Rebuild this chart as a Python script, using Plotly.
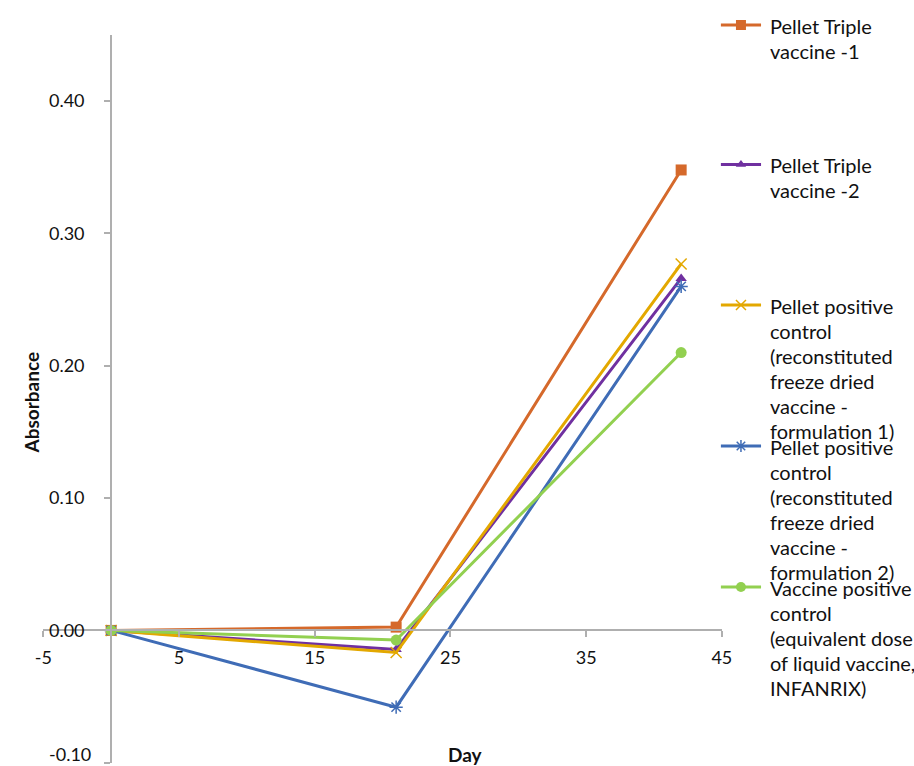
import plotly.graph_objects as go

# ---- data ----
days = [0, 21, 42]

triple_vaccine_1 = [0.0, 0.0025, 0.348]
triple_vaccine_2 = [0.0, -0.0144, 0.266]
positive_control_f1 = [0.0, -0.0167, 0.277]
positive_control_f2 = [0.0, -0.058, 0.260]
vaccine_positive_control = [0.0, -0.0073, 0.210]

legend_texts = [
    ["Pellet Triple", "vaccine -1"],
    ["Pellet Triple", "vaccine -2"],
    ["Pellet positive", "control", "(reconstituted", "freeze dried", "vaccine -", "formulation 1)"],
    ["Pellet positive", "control", "(reconstituted", "freeze dried", "vaccine -", "formulation 2)"],
    ["Vaccine positive", "control", "(equivalent dose", "of liquid vaccine,", "INFANRIX)"],
]

x_tick_vals = [-5, 5, 15, 25, 35, 45]
x_tick_text = ["-5", "5", "15", "25", "35", "45"]
y_tick_vals = [-0.10, 0.0, 0.10, 0.20, 0.30, 0.40]
y_tick_text = ["-0.10", "0.00", "0.10", "0.20", "0.30", "0.40"]

series_values = [triple_vaccine_1, triple_vaccine_2, positive_control_f1,
                 positive_control_f2, vaccine_positive_control]

# ---- styling ----
W, H = 914, 766
FONT = "Lato"
TEXT = "#111111"
AXIS = "#AFAFAF"

styles = [
    dict(color="#D5692B", symbol="square", size=11, line=None),
    dict(color="#7030A0", symbol="triangle-up", size=10, line=None),
    dict(color="#E3A800", symbol="x-thin-open", size=11, line=1.5),
    dict(color="#3F6CB6", symbol="asterisk-open", size=11, line=1.5),
    dict(color="#92D050", symbol="circle", size=11, line=None),
]

# plot-area frame in pixels
PX_L, PX_R, PX_T, PX_B = 35, 728, 35, 763
X_RANGE = [-5, 45]
Y_RANGE = [-0.1002, 0.45]


def px_x(px):
    return px / W


def px_y(py):
    return 1 - py / H


x_domain = [px_x(PX_L), px_x(PX_R)]
y_domain = [px_y(PX_B), px_y(PX_T)]
# axes cross at (0, 0)
x_axis_pos = y_domain[0] + (0 - Y_RANGE[0]) / (Y_RANGE[1] - Y_RANGE[0]) * (y_domain[1] - y_domain[0])
y_axis_pos = x_domain[0] + (0 - X_RANGE[0]) / (X_RANGE[1] - X_RANGE[0]) * (x_domain[1] - x_domain[0])


def marker_of(st, size=None):
    m = dict(symbol=st["symbol"], size=size or st["size"], color=st["color"])
    if st["line"]:
        m["line"] = dict(color=st["color"], width=st["line"])
    else:
        m["line"] = dict(width=0)
    return m


fig = go.Figure()

for vals, st, txt in zip(series_values, styles, legend_texts):
    fig.add_trace(go.Scatter(
        x=days, y=vals, mode="lines+markers",
        name=" ".join(txt),
        line=dict(color=st["color"], width=3),
        marker=marker_of(st),
        showlegend=False, cliponaxis=False,
        xaxis="x", yaxis="y",
    ))

# ---- hand-drawn legend on a pixel overlay ----
legend_y = [25, 164.5, 305, 446, 587]
LINE_STEP = 25
annotations = []
for st, txt, ly in zip(styles, legend_texts, legend_y):
    fig.add_trace(go.Scatter(
        x=[727, 768], y=[ly, ly], mode="lines",
        line=dict(color=st["color"], width=3),
        showlegend=False, hoverinfo="skip", cliponaxis=False,
        xaxis="x2", yaxis="y2",
    ))
    fig.add_trace(go.Scatter(
        x=[747.5], y=[ly], mode="markers",
        marker=marker_of(st, size=st["size"] - 1),
        showlegend=False, hoverinfo="skip", cliponaxis=False,
        xaxis="x2", yaxis="y2",
    ))
    for i, line in enumerate(txt):
        annotations.append(dict(
            x=px_x(775), y=px_y(ly + 1 + i * LINE_STEP),
            xref="paper", yref="paper", xanchor="left", yanchor="middle",
            text=line, showarrow=False,
            font=dict(family=FONT, size=20, color=TEXT),
        ))

# axis titles
annotations.append(dict(
    x=px_x(22), y=px_y(403), xref="paper", yref="paper",
    text="<b>Absorbance</b>", textangle=-90, showarrow=False,
    xanchor="center", yanchor="middle",
    font=dict(family=FONT, size=19, color=TEXT),
))
annotations.append(dict(
    x=px_x(466), y=px_y(754), xref="paper", yref="paper",
    text="<b>Day</b>", showarrow=False,
    xanchor="center", yanchor="middle",
    font=dict(family=FONT, size=19, color=TEXT),
))

# the lowest y label sits on the figure's bottom edge; keep it inside the page
y_tick_shown = [t if v > Y_RANGE[0] + 0.001 else "" for v, t in zip(y_tick_vals, y_tick_text)]
annotations.append(dict(
    x=px_x(85), y=0, xref="paper", yref="paper",
    text=y_tick_text[0], showarrow=False,
    xanchor="right", yanchor="bottom", borderpad=0,
    font=dict(family=FONT, size=18, color=TEXT),
))

fig.update_layout(
    width=W, height=H, autosize=False,
    margin=dict(l=0, r=0, t=0, b=0),
    paper_bgcolor="white", plot_bgcolor="rgba(0,0,0,0)",
    font=dict(family=FONT, color=TEXT),
    showlegend=False,
    xaxis=dict(
        domain=x_domain, range=X_RANGE, anchor="free", position=x_axis_pos,
        showgrid=False, zeroline=False,
        showline=True, linecolor=AXIS, linewidth=2,
        ticks="outside", ticklen=6, tickcolor=AXIS, tickwidth=2,
        tickvals=x_tick_vals, ticktext=x_tick_text,
        tickfont=dict(family=FONT, size=18, color=TEXT),
        ticklabelstandoff=5,
    ),
    yaxis=dict(
        domain=y_domain, range=Y_RANGE, anchor="free", position=y_axis_pos,
        showgrid=False, zeroline=False,
        showline=True, linecolor=AXIS, linewidth=2,
        ticks="outside", ticklen=6, tickcolor=AXIS, tickwidth=2,
        tickvals=y_tick_vals, ticktext=y_tick_shown,
        tickfont=dict(family=FONT, size=18, color=TEXT),
        ticklabelstandoff=16,
    ),
    xaxis2=dict(domain=[0, 1], range=[0, W], anchor="y2", visible=False, fixedrange=True),
    yaxis2=dict(domain=[0, 1], range=[H, 0], anchor="x2", visible=False, fixedrange=True),
    annotations=annotations,
)

fig.write_html("out.html")
